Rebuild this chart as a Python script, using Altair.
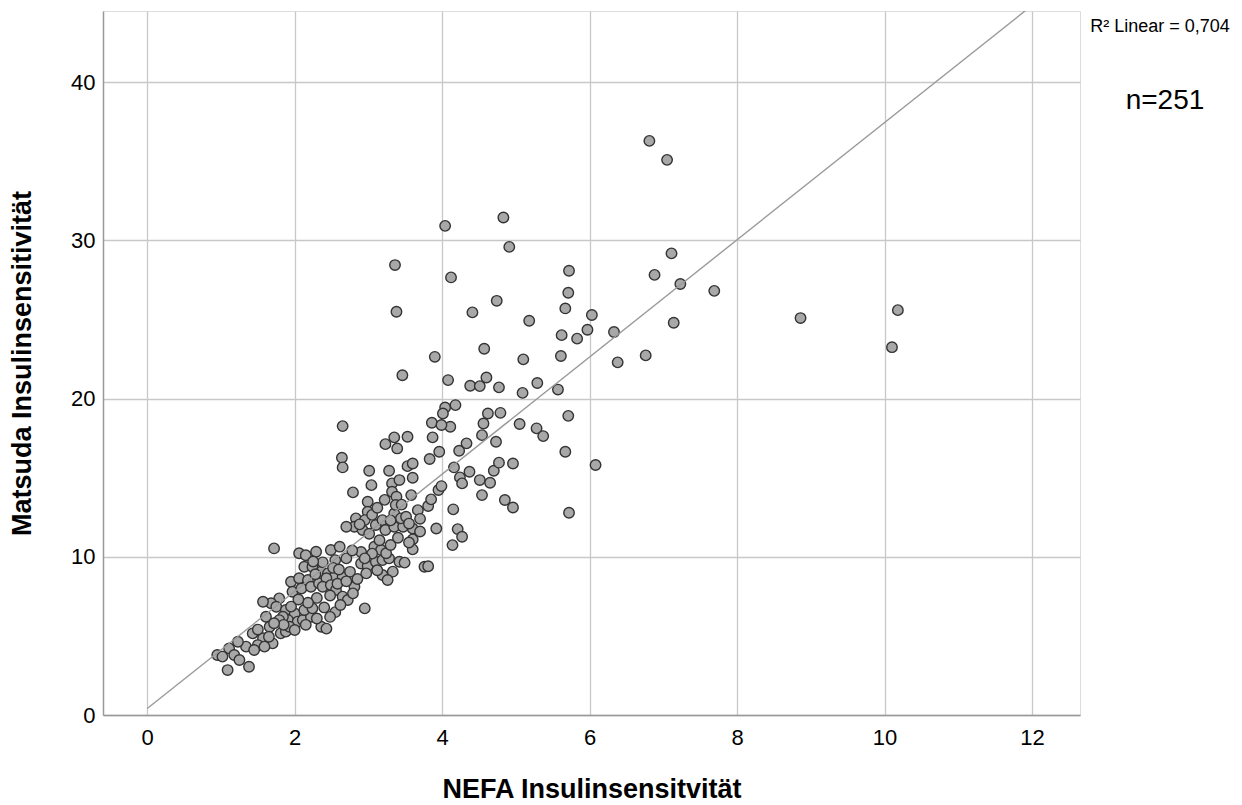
import altair as alt
import pandas as pd

# NEFA insulin sensitivity (x) and Matsuda insulin sensitivity (y)
x_vals = [
    4.04, 4.83, 4.91, 3.36, 4.12, 5.72, 7.11, 6.88, 5.71, 7.23, 7.69, 3.38, 4.41, 4.74, 5.67, 6.03,
    5.18, 7.14, 5.62, 5.83, 5.97, 6.33, 4.57, 3.90, 5.10, 5.61, 6.38, 6.76, 3.46, 4.08, 4.38, 4.51,
    4.60, 4.77, 5.29, 5.09, 5.57, 4.04, 4.18, 4.01, 4.62, 4.79, 5.71, 3.86, 4.11, 4.56, 5.05, 5.28,
    8.86, 10.18, 10.10, 6.81, 7.05, 5.37, 5.67, 6.08, 5.72,
    2.65, 3.99, 4.54, 4.73, 3.35, 3.23, 3.53, 3.39, 3.87, 3.96, 3.83, 4.23, 4.33, 2.64, 2.65, 3.01,
    3.28, 3.53, 3.60, 3.60, 3.04, 3.32, 3.42, 3.32, 2.79, 3.58, 3.38, 2.99, 2.99, 3.35, 2.83, 2.95,
    2.81, 2.70, 3.10, 3.19, 3.23, 3.35, 3.47, 3.60, 3.44, 3.51, 3.67, 3.81, 3.85, 3.95, 3.99, 4.16,
    4.24, 4.27, 4.37, 4.51, 4.65, 4.54, 4.70, 4.77, 4.96, 4.15, 4.85, 4.96, 3.92, 4.21, 4.27, 4.14,
    3.60, 3.60, 3.76, 3.81,
    2.06, 2.29, 2.49, 2.61, 2.70, 2.13, 2.24, 2.36, 2.45, 2.90, 2.99, 3.10, 3.19, 3.28, 3.08, 3.17,
    3.24, 3.42, 3.49, 2.54, 2.65, 2.97, 3.19, 3.33, 2.92, 3.01, 3.37, 3.26, 2.95, 1.72, 2.55, 1.95,
    2.06, 2.18, 1.97, 2.09, 2.22, 2.33, 2.43, 2.38, 2.49, 2.56, 2.65, 2.72, 2.81, 2.79, 1.79, 1.68,
    1.57, 1.75, 1.88, 2.00, 1.91, 1.84, 2.04, 2.11, 2.22, 2.36, 2.43, 2.13, 2.24,
    1.43, 1.57, 1.70, 1.81, 1.88, 1.34, 1.23, 1.11, 1.18, 0.95, 1.02, 1.25, 1.38, 1.09, 1.50, 1.45,
    1.59, 1.79, 1.93, 2.00, 1.61, 1.66,
    2.15, 2.38, 2.52, 2.28, 2.60, 2.75, 2.85, 2.90, 3.05, 3.15, 3.30, 3.40, 2.88, 3.05, 3.12, 3.22,
    3.45, 3.30, 3.55, 3.70, 2.48, 2.58, 2.30, 2.18, 2.05, 2.40, 2.55, 2.62, 2.30, 2.48, 2.15, 1.95,
    1.85, 1.65, 1.50, 1.72, 2.70, 2.95, 3.55, 3.70, 2.25, 2.78, 3.12,
]
y_vals = [
    30.92, 31.45, 29.59, 28.44, 27.66, 28.08, 29.18, 27.82, 26.69, 27.24, 26.81, 25.49, 25.45, 26.18, 25.70, 25.28,
    24.92, 24.79, 24.01, 23.79, 24.35, 24.21, 23.15, 22.64, 22.48, 22.69, 22.29, 22.73, 21.48, 21.17, 20.81, 20.79,
    21.33, 20.71, 20.99, 20.36, 20.57, 19.44, 19.59, 19.06, 19.06, 19.10, 18.91, 18.47, 18.22, 18.43, 18.39, 18.12,
    25.09, 25.59, 23.25, 36.29, 35.09, 17.63, 16.64, 15.80, 12.78,
    18.26, 18.33, 17.69, 17.27, 17.55, 17.12, 17.59, 16.85, 17.55, 16.64, 16.18, 16.70, 17.17, 16.26, 15.65, 15.44,
    15.44, 15.73, 15.90, 15.00, 14.53, 14.64, 14.85, 14.11, 14.07, 13.90, 13.80, 13.48, 12.85, 12.74, 12.43, 12.32,
    11.90, 11.90, 12.01, 12.32, 11.69, 11.90, 11.90, 11.79, 12.43, 12.53, 12.95, 13.21, 13.63, 14.22, 14.47, 15.65,
    15.02, 14.64, 15.38, 14.85, 14.68, 13.90, 15.44, 15.95, 15.90, 13.00, 13.59, 13.12, 11.79, 11.75, 11.27, 10.74,
    11.10, 10.47, 9.37, 9.40,
    10.22, 10.32, 10.43, 10.64, 9.90, 9.37, 9.37, 9.06, 8.95, 9.58, 9.42, 9.69, 9.79, 9.90, 10.64, 10.43,
    10.22, 9.69, 9.63, 8.74, 8.74, 8.95, 8.85, 9.06, 11.69, 11.46, 13.27, 8.53, 6.74, 10.53, 9.79, 8.42,
    8.64, 8.53, 7.79, 8.00, 8.11, 8.32, 8.64, 8.11, 8.21, 7.90, 7.48, 7.27, 8.11, 7.69, 7.37, 7.06,
    7.16, 6.84, 6.64, 6.42, 6.00, 6.21, 5.90, 6.00, 6.21, 5.58, 5.46, 6.64, 6.74,
    5.16, 4.85, 4.53, 5.16, 5.27, 4.32, 4.63, 4.21, 3.79, 3.79, 3.69, 3.48, 3.05, 2.84, 4.42, 4.11,
    4.32, 6.00, 5.58, 5.37, 6.21, 5.58,
    10.10, 9.65, 9.30, 8.90, 9.20, 9.05, 8.60, 10.30, 10.20, 11.05, 10.75, 11.20, 12.05, 12.65, 13.10, 13.60,
    13.30, 12.30, 12.10, 12.40, 7.55, 8.30, 7.40, 7.10, 7.30, 6.80, 6.50, 6.95, 6.10, 6.20, 5.70, 6.85,
    5.70, 4.95, 5.40, 5.80, 8.45, 9.90, 10.90, 11.60, 9.70, 10.40, 9.15,
]
x_ticks = [0, 2, 4, 6, 8, 10, 12]
y_ticks = [0, 10, 20, 30, 40]
notes = ["R\u00b2 Linear = 0,704", "n=251"]

FONT = "Liberation Sans, Arial, Helvetica, sans-serif"
W, H = 977, 704

df = pd.DataFrame({"nefa": x_vals, "matsuda": y_vals})

x_scale = alt.Scale(domain=[-0.6, 12.65], nice=False, zero=False)
y_scale = alt.Scale(domain=[0, 44.5], nice=False)

x_axis = alt.Axis(
    values=x_ticks, format="d", title="NEFA Insulinsensitvität", grid=True, gridColor="#c8c8c8",
    gridWidth=1.3, domainColor="#999999", domainWidth=1.5, ticks=False, labelFontSize=22,
    labelPadding=12, labelColor="#000000", labelFont=FONT, titleFont=FONT, titleFontSize=27,
    titleFontWeight="bold", titleColor="#000000", titleX=W / 2, titleY=74, titleAlign="center",
    titleBaseline="middle",
)
y_axis = alt.Axis(
    values=y_ticks, format="d", title="Matsuda Insulinsensitivität", grid=True, gridColor="#c8c8c8",
    gridWidth=1.3, domainColor="#999999", domainWidth=1.5, ticks=False, labelFontSize=22,
    labelPadding=8, labelColor="#000000", labelFont=FONT, titleFont=FONT, titleFontSize=27,
    titleFontWeight="bold", titleColor="#000000", titleX=-81, titleY=H / 2, titleAngle=270,
    titleAlign="center", titleBaseline="middle",
)

base = alt.Chart(df)

points = base.mark_point(
    filled=True, fill="#a8a8a8", stroke="#333333", strokeWidth=1.4, size=110, opacity=1,
    fillOpacity=1, strokeOpacity=1,
).encode(
    x=alt.X("nefa:Q", scale=x_scale, axis=x_axis),
    y=alt.Y("matsuda:Q", scale=y_scale, axis=y_axis),
)

fit = base.transform_regression(
    "nefa", "matsuda", extent=[0, 12.65]
).mark_line(color="#9a9a9a", strokeWidth=1.4, clip=True).encode(
    x=alt.X("nefa:Q", scale=x_scale),
    y=alt.Y("matsuda:Q", scale=y_scale),
)

note_df = pd.DataFrame({"label": notes})
r2_text = alt.Chart(note_df).transform_filter(
    alt.datum.label == notes[0]
).mark_text(font=FONT, fontSize=18, color="#000000", align="center", baseline="middle").encode(
    text="label:N", x=alt.value(1057), y=alt.value(16)
)
n_text = alt.Chart(note_df).transform_filter(
    alt.datum.label == notes[1]
).mark_text(font=FONT, fontSize=28, color="#000000", align="center", baseline="middle").encode(
    text="label:N", x=alt.value(1062), y=alt.value(90)
)

chart = alt.layer(points, fit, r2_text, n_text).properties(
    width=W, height=H,
    autosize=alt.AutoSizeParams(type="none"),
    padding={"left": 95, "top": 3, "right": 154, "bottom": 98},
).configure_view(stroke=None).configure(background="white")

chart.save("out.html", embed_options={"renderer": "svg", "actions": False})
